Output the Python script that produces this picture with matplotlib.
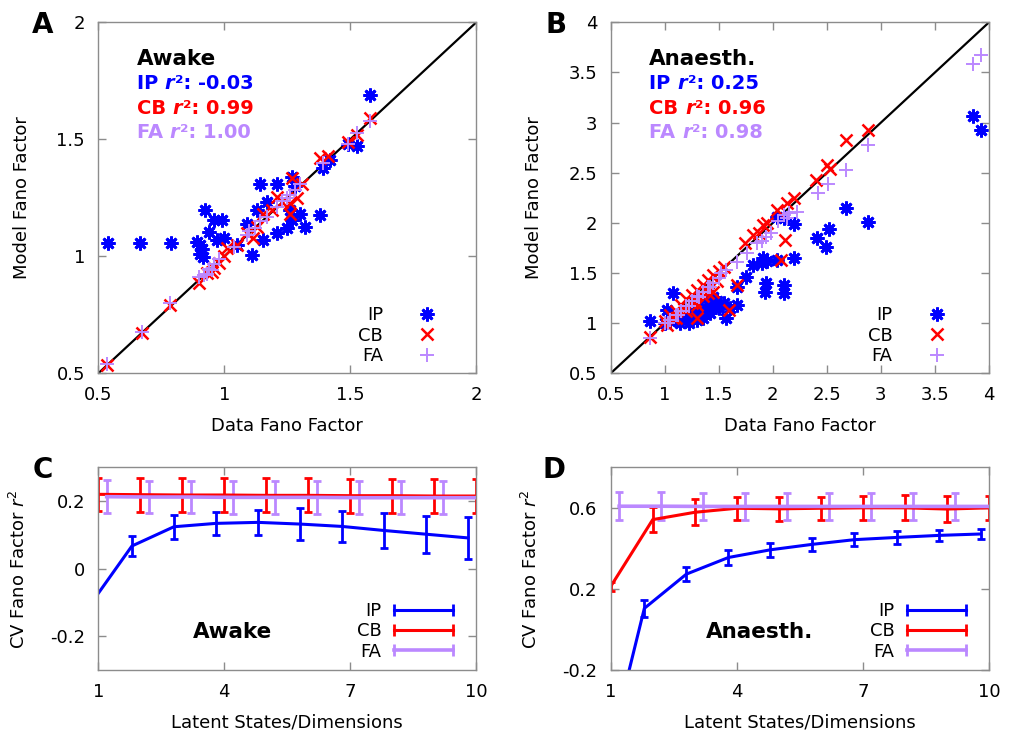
import numpy as np
import matplotlib
matplotlib.use('Agg')
import matplotlib.pyplot as plt
from matplotlib.lines import Line2D

C_IP, C_CB, C_FA = '#0000ff', '#ff0000', '#bb88ff'
GREY = '#8c8c8c'

# ─── Panel A (awake) scatter: data vs model Fano factor ───
ip_a_x = [0.54, 0.665, 0.788, 0.89, 0.905, 0.91, 0.905, 0.923, 0.96, 0.99, 0.94, 0.97,
          0.917, 1.11, 1.14, 1.21, 1.27, 1.13, 1.17, 1.09, 1.155, 1.21, 1.25, 1.27,
          1.30, 1.32, 1.38, 1.26, 1.39, 1.42, 1.49, 1.525, 1.58, 1.28, 1.0, 1.05]
ip_a_y = [1.056, 1.056, 1.056, 1.06, 1.05, 1.03, 1.01, 1.198, 1.155, 1.155, 1.105, 1.07,
          0.998, 1.006, 1.31, 1.31, 1.34, 1.2, 1.23, 1.14, 1.07, 1.10, 1.12, 1.155,
          1.18, 1.127, 1.177, 1.2, 1.376, 1.41, 1.48, 1.47, 1.69, 1.30, 1.08, 1.05]
cb_a_x = [0.533, 0.672, 0.784, 0.90, 0.93, 0.96, 0.95, 1.01, 1.05, 1.09, 1.115, 1.13,
          1.155, 1.19, 1.21, 1.23, 1.26, 1.29, 1.27, 1.31, 1.38, 1.41, 1.49, 1.525,
          1.58, 1.26, 0.98, 1.0]
cb_a_y = [0.536, 0.674, 0.792, 0.885, 0.93, 0.95, 0.935, 1.034, 1.05, 1.10, 1.08, 1.127,
          1.18, 1.20, 1.255, 1.23, 1.227, 1.25, 1.333, 1.31, 1.42, 1.43, 1.49, 1.52,
          1.59, 1.18, 0.97, 1.0]
fa_a_x = [0.533, 0.672, 0.784, 0.90, 0.92, 0.94, 0.96, 0.98, 1.04, 1.09, 1.12, 1.14,
          1.17, 1.21, 1.23, 1.26, 1.28, 1.30, 1.39, 1.49, 1.525, 1.58, 0.93, 0.95,
          1.10, 1.25]
fa_a_y = [0.54, 0.678, 0.80, 0.91, 0.92, 0.945, 0.965, 0.99, 1.04, 1.09, 1.12, 1.15,
          1.17, 1.21, 1.235, 1.26, 1.285, 1.31, 1.40, 1.48, 1.526, 1.58, 0.925, 0.94,
          1.11, 1.25]

# ─── Panel B (anaesthetised) scatter ───
ip_b_x = [3.85, 3.93, 2.68, 2.88, 2.41, 2.52, 2.49, 2.2, 2.1, 2.04, 2.2, 2.04, 1.91,
          1.82, 1.75, 1.94, 1.93, 2.1, 2.1, 1.67, 1.67, 1.57, 1.08, 0.86, 1.02, 1.3,
          1.45, 1.14, 1.2, 1.25, 1.3, 1.35, 1.4, 1.45, 1.5, 1.35, 1.28, 1.42, 1.48,
          1.38, 1.55, 1.6, 1.9, 1.95, 1.0, 1.05, 1.15, 1.22]
ip_b_y = [3.07, 2.93, 2.15, 2.01, 1.85, 1.94, 1.76, 1.99, 2.05, 2.06, 1.65, 1.63, 1.65,
          1.58, 1.46, 1.40, 1.31, 1.38, 1.30, 1.36, 1.18, 1.05, 1.30, 1.02, 1.13, 1.03,
          1.26, 1.0, 1.05, 1.1, 1.15, 1.12, 1.18, 1.2, 1.15, 1.05, 1.08, 1.1, 1.22,
          1.25, 1.2, 1.15, 1.6, 1.62, 1.0, 1.02, 1.05, 1.0]
cb_b_x = [2.88, 2.68, 2.5, 2.53, 2.4, 2.2, 2.13, 2.04, 1.91, 1.82, 1.74, 2.11, 2.08,
          1.67, 1.59, 1.30, 1.45, 0.86, 1.0, 1.05, 1.1, 1.15, 1.2, 1.25, 1.3, 1.35,
          1.4, 1.45, 1.5, 1.55, 1.1, 1.2, 1.3, 1.4, 1.25, 1.35, 1.02, 1.08, 1.18,
          1.28, 1.38, 1.48, 1.95, 1.87]
cb_b_y = [2.93, 2.83, 2.58, 2.54, 2.43, 2.25, 2.2, 2.13, 1.98, 1.88, 1.8, 1.83, 1.63,
          1.38, 1.13, 1.05, 1.31, 0.865, 1.02, 1.08, 1.12, 1.18, 1.24, 1.28, 1.33,
          1.38, 1.43, 1.48, 1.52, 1.56, 1.05, 1.12, 1.18, 1.3, 1.2, 1.27, 0.98, 1.05,
          1.14, 1.22, 1.35, 1.42, 2.0, 1.9]
fa_b_x = [3.85, 3.93, 2.88, 2.68, 2.51, 2.42, 2.22, 2.13, 2.1, 1.94, 1.85, 1.76, 1.67,
          1.57, 0.86, 1.0, 1.05, 1.1, 1.15, 1.2, 1.25, 1.3, 1.35, 1.4, 1.45, 1.5,
          1.03, 1.12, 1.22, 1.32, 1.42, 1.52, 2.05, 2.15, 1.98, 1.9]
fa_b_y = [3.58, 3.67, 2.78, 2.53, 2.39, 2.30, 2.11, 2.05, 2.08, 1.86, 1.80, 1.70, 1.61,
          1.53, 0.85, 1.0, 1.03, 1.08, 1.12, 1.17, 1.22, 1.27, 1.31, 1.36, 1.40, 1.45,
          1.0, 1.08, 1.17, 1.26, 1.36, 1.5, 2.02, 2.1, 1.9, 1.82]

R2_A = {'IP': '-0.03', 'CB': '0.99', 'FA': '1.00'}
R2_B = {'IP': '0.25', 'CB': '0.96', 'FA': '0.98'}

# ─── Panels C/D: r^2 vs latent dimensionality (x offset per model) ───
ip_x = [0.8, 1.8, 2.8, 3.8, 4.8, 5.8, 6.8, 7.8, 8.8, 9.8]
cb_x = [1, 2, 3, 4, 5, 6, 7, 8, 9, 10]
fa_x = [1.2, 2.2, 3.2, 4.2, 5.2, 6.2, 7.2, 8.2, 9.2, 10.2]

ip_c = [-0.108, 0.067, 0.124, 0.134, 0.137, 0.132, 0.125, 0.113, 0.102, 0.091]
ip_c_err = [0.03, 0.03, 0.036, 0.035, 0.037, 0.048, 0.046, 0.052, 0.055, 0.061]
cb_c = [0.220, 0.219, 0.218, 0.218, 0.217, 0.217, 0.216, 0.216, 0.215, 0.215]
cb_c_err = [0.048, 0.05, 0.05, 0.05, 0.05, 0.05, 0.05, 0.05, 0.05, 0.05]
fa_c = [0.213, 0.212, 0.212, 0.211, 0.211, 0.211, 0.210, 0.210, 0.210, 0.210]
fa_c_err = [0.048, 0.048, 0.048, 0.048, 0.048, 0.048, 0.048, 0.048, 0.048, 0.048]

ip_d = [-0.74, 0.104, 0.273, 0.355, 0.393, 0.42, 0.443, 0.454, 0.464, 0.471]
ip_d_err = [0.04, 0.041, 0.033, 0.036, 0.035, 0.031, 0.031, 0.031, 0.029, 0.027]
cb_d = [0.212, 0.542, 0.578, 0.598, 0.595, 0.598, 0.6, 0.6, 0.594, 0.6]
cb_d_err = [0.02, 0.06, 0.064, 0.056, 0.06, 0.057, 0.06, 0.062, 0.062, 0.06]
fa_d = [0.608, 0.608, 0.607, 0.607, 0.607, 0.607, 0.607, 0.607, 0.607, 0.607]
fa_d_err = [0.068, 0.068, 0.068, 0.068, 0.068, 0.068, 0.068, 0.068, 0.068, 0.068]

W, H = 1009, 738
fig = plt.figure(figsize=(W / 100, H / 100), dpi=100)


def px_axes(l, t, r, b):
    return fig.add_axes([l / W, 1 - b / H, (r - l) / W, (b - t) / H])


def style(ax):
    for s in ax.spines.values():
        s.set_color(GREY)
        s.set_linewidth(1)
    ax.tick_params(direction='in', top=True, right=True, length=6, width=1,
                   color=GREY, labelsize=13, pad=9.5)


def r2_line(ax, x, y, name, val, color):
    kw = dict(fontsize=14, fontweight='bold', color=color)
    t1 = ax.text(x, y, name, transform=ax.transAxes, va='baseline', **kw)
    t2 = ax.annotate('r', xy=(1, 0), xycoords=t1, xytext=(0, 0),
                     textcoords='offset points', va='bottom', style='italic', **kw)
    ax.annotate('\u00b2: ' + val, xy=(1, 0), xycoords=t2, xytext=(0.5, 0),
                textcoords='offset points', va='bottom', **kw)


def scatter_panel(ax, lim, ticks, data, title, r2, leg_x):
    ax.plot(lim, lim, color='k', lw=1.6, zorder=1)
    (ipx, ipy), (cbx, cby), (fax, fay) = data
    ax.plot(ipx, ipy, ls='none', marker=(8, 2, 0), ms=10, mew=2, color=C_IP)
    ax.plot(cbx, cby, ls='none', marker='x', ms=9, mew=1.8, color=C_CB)
    ax.plot(fax, fay, ls='none', marker='+', ms=10, mew=1.4, color=C_FA)
    ax.set_xlim(lim)
    ax.set_ylim(lim)
    ax.set_xticks(ticks)
    ax.set_yticks(ticks)
    ax.set_xticklabels([f'{t:g}' for t in ticks])
    ax.set_yticklabels([f'{t:g}' for t in ticks])
    style(ax)
    ax.set_xlabel('Data Fano Factor', fontsize=13, labelpad=9)
    ax.set_ylabel('Model Fano Factor', fontsize=13)
    ax.yaxis.set_label_coords(-0.178, 0.5)
    ax.text(0.102, 0.878, title, transform=ax.transAxes, fontsize=15.5,
            fontweight='bold', va='baseline')
    for (name, col), yy in zip([('IP', C_IP), ('CB', C_CB), ('FA', C_FA)],
                               [0.809, 0.739, 0.670]):
        r2_line(ax, 0.102, yy, name + ' ', r2[name], col)
    handles = [Line2D([], [], ls='none', marker=(8, 2, 0), ms=10, mew=2, color=C_IP),
               Line2D([], [], ls='none', marker='x', ms=9, mew=1.8, color=C_CB),
               Line2D([], [], ls='none', marker='+', ms=10, mew=1.4, color=C_FA)]
    ax.legend(handles, ['IP', 'CB', 'FA'], loc='lower right',
              bbox_to_anchor=(leg_x, 0.024), frameon=False, markerfirst=False,
              numpoints=1, handlelength=2.5, handletextpad=1.2, labelspacing=0.13,
              borderpad=0, borderaxespad=0, fontsize=13)


def line_panel(ax, ylim, yticks, series, title, tx):
    for (x, y, e, col, lw) in series:
        ax.errorbar(x, y, yerr=e, color=col, lw=lw, elinewidth=2, capsize=3,
                    capthick=2)
    ax.set_xlim(1, 10)
    ax.set_ylim(ylim)
    ax.set_xticks([1, 4, 7, 10])
    ax.set_yticks(yticks)
    ax.set_yticklabels([f'{t:g}' for t in yticks])
    style(ax)
    ax.set_xlabel('Latent States/Dimensions', fontsize=13, labelpad=9)
    ax.set_ylabel('CV Fano Factor $r^2$', fontsize=13)
    ax.yaxis.set_label_coords(-0.183, 0.5)
    ax.text(tx, 0.156, title, transform=ax.transAxes, fontsize=15.5,
            fontweight='bold', ha='center', va='baseline')
    handles = [Line2D([], [], color=c, lw=lw, marker='|', ms=8, mew=2)
               for (_, _, _, c, lw) in series]
    ax.legend(handles, ['IP', 'CB', 'FA'], loc='lower right',
              bbox_to_anchor=(0.953, 0.046), frameon=False, markerfirst=False,
              numpoints=2, handlelength=3.87, handletextpad=0.39,
              labelspacing=0.13, borderpad=0, borderaxespad=0, fontsize=13)


axA = px_axes(98.3, 22.3, 476.3, 373.3)
axB = px_axes(610.7, 22.3, 989, 373.3)
axC = px_axes(98.3, 467.3, 476.3, 670)
axD = px_axes(610.7, 467.3, 989, 670)

scatter_panel(axA, [0.5, 2], [0.5, 1, 1.5, 2],
              [(ip_a_x, ip_a_y), (cb_a_x, cb_a_y), (fa_a_x, fa_a_y)],
              'Awake', R2_A, 0.930)
scatter_panel(axB, [0.5, 4], [0.5, 1, 1.5, 2, 2.5, 3, 3.5, 4],
              [(ip_b_x, ip_b_y), (cb_b_x, cb_b_y), (fa_b_x, fa_b_y)],
              'Anaesth.', R2_B, 0.921)

line_panel(axC, (-0.3, 0.3), [-0.2, 0, 0.2],
           [(ip_x, ip_c, ip_c_err, C_IP, 2.2), (cb_x, cb_c, cb_c_err, C_CB, 2.2),
            (fa_x, fa_c, fa_c_err, C_FA, 2.6)], 'Awake', 0.356)
line_panel(axD, (-0.2, 0.8), [-0.2, 0.2, 0.6],
           [(ip_x, ip_d, ip_d_err, C_IP, 2.2), (cb_x, cb_d, cb_d_err, C_CB, 2.2),
            (fa_x, fa_d, fa_d_err, C_FA, 2.6)], 'Anaesth.', 0.394)

for lab, x, y in [('A', 42.5, 33), ('B', 556, 33), ('C', 42.5, 478), ('D', 554, 478)]:
    fig.text(x / W, 1 - y / H, lab, fontsize=20, fontweight='bold',
             ha='center', va='baseline')

fig.savefig('out.png', dpi=100)
